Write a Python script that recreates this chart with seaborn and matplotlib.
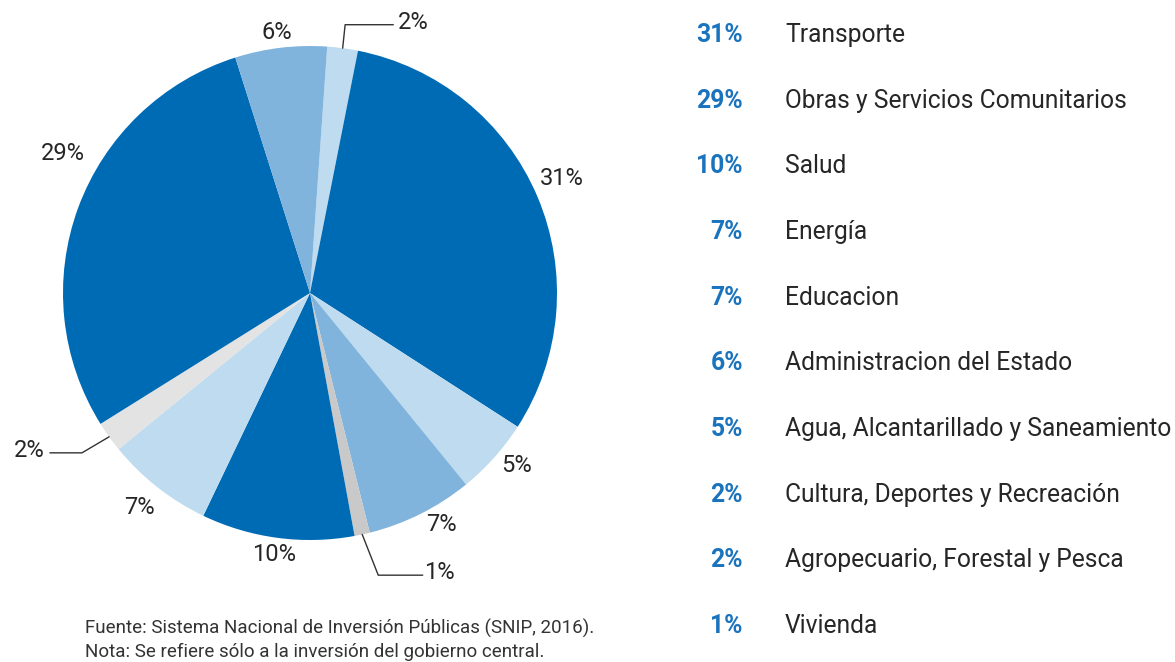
import numpy as np
import matplotlib
matplotlib.use("Agg")
import matplotlib.pyplot as plt
import seaborn as sns

# ---- data ----
pie_values = [2, 31, 5, 7, 1, 10, 7, 2, 29, 6]          # clockwise order in the pie
pie_labels = ["2%", "31%", "5%", "7%", "1%", "10%", "7%", "2%", "29%", "6%"]
legend_pcts = ["31%", "29%", "10%", "7%", "7%", "6%", "5%", "2%", "2%", "1%"]
legend_names = ["Transporte", "Obras y Servicios Comunitarios", "Salud", "Energía",
                "Educacion", "Administracion del Estado",
                "Agua, Alcantarillado y Saneamiento", "Cultura, Deportes y Recreación",
                "Agropecuario, Forestal y Pesca", "Vivienda"]
footnote = ["Fuente: Sistema Nacional de Inversión Públicas (SNIP, 2016).",
            "Nota: Se refiere sólo a la inversión del gobierno central."]

# ---- style ----
DARK, MED, LIGHT, GRAY, LGRAY = "#006bb5", "#80b4dc", "#bfdbef", "#c9c9c9", "#e3e3e3"
slice_colors = [LIGHT, DARK, LIGHT, MED, GRAY, DARK, LIGHT, LGRAY, DARK, MED]
leader = {0: "top", 4: "bottom", 7: "left"}
angle_nudge = {1: -1.5, 2: -2.0, 3: -3.0, 5: 0.2, 6: 0.4, 8: 9.2, 9: -0.4}
dist_nudge = {1: 1.12, 2: 1.09, 3: 1.08, 5: 1.07, 6: 1.11, 8: 1.15, 9: 1.065}

sns.set_theme(style="white")
plt.rcParams["font.family"] = ["Roboto", "DejaVu Sans"]

W, H = 1175, 662
fig = plt.figure(figsize=(W / 100, H / 100), dpi=100)
cx, cy, R = 310, 293, 247
ax = fig.add_axes([(cx - R) / W, (H - cy - R) / H, 2 * R / W, 2 * R / H])
start = 4.0  # degrees clockwise from top
wedges, _ = ax.pie(pie_values, colors=slice_colors, startangle=90 - start,
                   counterclock=False, radius=1.0,
                   wedgeprops=dict(linewidth=0))
ax.set_xlim(-1, 1)
ax.set_ylim(-1, 1)
ax.set_aspect("equal")
ax.axis("off")

txtc = "#262626"
FS = 17
total = sum(pie_values)
cum = 0.0
for i, (v, lab) in enumerate(zip(pie_values, pie_labels)):
    mid = start + (cum + v / 2) / total * 360
    cum += v
    th = np.deg2rad(mid)
    ex, ey = np.sin(th), np.cos(th)
    kind = leader.get(i)
    if kind is None:
        th2 = np.deg2rad(mid + angle_nudge.get(i, 0))
        d = dist_nudge.get(i, 1.08)
        ax.text(d * np.sin(th2), d * np.cos(th2), lab, ha="center", va="center",
                fontsize=FS, color=txtc)
    elif kind == "top":
        p1 = (ex + 0.01, ey + 0.095)
        p2 = (p1[0] + 0.195, p1[1])
        ax.plot([ex, p1[0], p2[0]], [ey, p1[1], p2[1]], color="#333333", lw=1.0, clip_on=False)
        ax.text(p2[0] + 0.02, p2[1] + 0.01, lab, ha="left", va="center", fontsize=FS,
                color=txtc)
    elif kind == "bottom":
        p1 = (ex + 0.065, ey - 0.165)
        p2 = (p1[0] + 0.18, p1[1])
        ax.plot([ex, p1[0], p2[0]], [ey, p1[1], p2[1]], color="#333333", lw=1.0, clip_on=False)
        ax.text(p2[0] + 0.005, p2[1] + 0.01, lab, ha="left", va="center", fontsize=FS,
                color=txtc)
    elif kind == "left":
        p1 = (ex - 0.11, ey - 0.065)
        p2 = (p1[0] - 0.13, p1[1])
        ax.plot([ex, p1[0], p2[0]], [ey, p1[1], p2[1]], color="#333333", lw=1.0, clip_on=False)
        ax.text(p2[0] - 0.02, p2[1] + 0.01, lab, ha="right", va="center", fontsize=FS,
                color=txtc)

# ---- legend on the right ----
y0, dy = 35, 65.67
for k, (p, n) in enumerate(zip(legend_pcts, legend_names)):
    y = 1 - (y0 + k * dy) / H
    fig.text(743 / W, y, p, ha="right", va="center", fontsize=17.8,
             fontweight="bold", color="#1a73bd")
    fig.text(785 / W, y, n, ha="left", va="center", fontsize=17.7,
             color=txtc)

# ---- footnote ----
for j, line in enumerate(footnote):
    fig.text(85 / W, 1 - (628 + j * 24) / H, line, ha="left", va="center",
             fontsize=13.5, color="#333333")

fig.savefig("out.png", dpi=100)
